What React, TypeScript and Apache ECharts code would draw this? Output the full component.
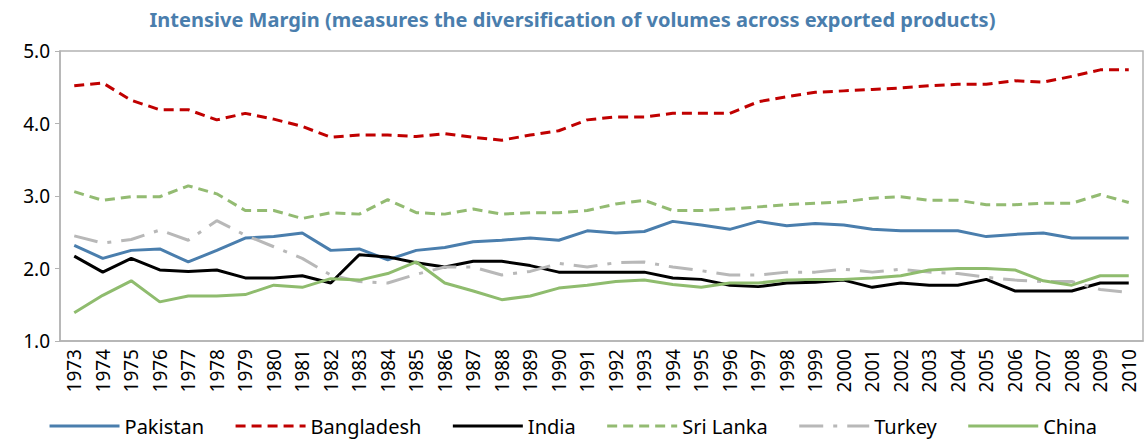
import React, { useEffect, useRef } from "react";
import * as echarts from "echarts";

const years = [
  "1973","1974","1975","1976","1977","1978","1979","1980","1981","1982",
  "1983","1984","1985","1986","1987","1988","1989","1990","1991","1992",
  "1993","1994","1995","1996","1997","1998","1999","2000","2001","2002",
  "2003","2004","2005","2006","2007","2008","2009","2010",
];

const pakistan = [
  2.32, 2.14, 2.25, 2.27, 2.09, 2.25, 2.42, 2.44, 2.49, 2.25,
  2.27, 2.12, 2.25, 2.29, 2.37, 2.39, 2.42, 2.39, 2.52, 2.49,
  2.51, 2.65, 2.60, 2.54, 2.65, 2.59, 2.62, 2.60, 2.54, 2.52,
  2.52, 2.52, 2.44, 2.47, 2.49, 2.42, 2.42, 2.42,
];
const bangladesh = [
  4.52, 4.56, 4.32, 4.19, 4.19, 4.05, 4.14, 4.06, 3.96, 3.81,
  3.84, 3.84, 3.82, 3.86, 3.81, 3.77, 3.84, 3.90, 4.05, 4.09,
  4.09, 4.14, 4.14, 4.14, 4.30, 4.37, 4.43, 4.45, 4.47, 4.49,
  4.52, 4.54, 4.54, 4.59, 4.57, 4.65, 4.74, 4.74,
];
const india = [
  2.17, 1.95, 2.14, 1.98, 1.96, 1.98, 1.87, 1.87, 1.90, 1.80,
  2.19, 2.16, 2.08, 2.02, 2.10, 2.10, 2.04, 1.95, 1.95, 1.95,
  1.95, 1.87, 1.85, 1.77, 1.75, 1.80, 1.81, 1.84, 1.74, 1.80,
  1.77, 1.77, 1.85, 1.69, 1.69, 1.69, 1.80, 1.80,
];
const sriLanka = [
  3.06, 2.94, 2.99, 2.99, 3.14, 3.03, 2.80, 2.80, 2.69, 2.77,
  2.75, 2.95, 2.77, 2.75, 2.82, 2.75, 2.77, 2.77, 2.80, 2.89,
  2.94, 2.80, 2.80, 2.82, 2.85, 2.88, 2.90, 2.92, 2.97, 2.99,
  2.94, 2.94, 2.88, 2.88, 2.90, 2.90, 3.02, 2.91,
];
const turkey = [
  2.45, 2.35, 2.40, 2.53, 2.39, 2.66, 2.46, 2.30, 2.14, 1.91,
  1.82, 1.80, 1.92, 2.02, 2.02, 1.91, 1.96, 2.07, 2.02, 2.08,
  2.09, 2.02, 1.97, 1.91, 1.91, 1.95, 1.95, 1.99, 1.95, 1.99,
  1.95, 1.93, 1.88, 1.84, 1.82, 1.82, 1.71, 1.67,
];
const china = [
  1.39, 1.63, 1.83, 1.54, 1.62, 1.62, 1.64, 1.77, 1.74, 1.86,
  1.84, 1.93, 2.09, 1.80, 1.69, 1.57, 1.62, 1.73, 1.77, 1.82,
  1.84, 1.78, 1.74, 1.80, 1.80, 1.84, 1.85, 1.85, 1.87, 1.90,
  1.98, 2.00, 2.00, 1.98, 1.83, 1.77, 1.90, 1.90,
];

const seriesDefs = [
  { name: "Pakistan", data: pakistan, color: "#4a7ead", type: "solid" as any },
  { name: "Bangladesh", data: bangladesh, color: "#c00000", type: [10, 6] as any },
  { name: "India", data: india, color: "#000000", type: "solid" as any },
  { name: "Sri Lanka", data: sriLanka, color: "#93bb72", type: [10, 6] as any },
  { name: "Turkey", data: turkey, color: "#b8b8b8", type: [24, 10, 4, 10] as any },
  { name: "China", data: china, color: "#8fbc6e", type: "solid" as any },
];

const FONT = "Noto Sans";

export default function App() {
  const ref = useRef<HTMLDivElement>(null);
  useEffect(() => {
    if (!ref.current) return;
    const chart = echarts.init(ref.current, null, { renderer: "svg" });
    chart.setOption({
      animation: false,
      backgroundColor: "#ffffff",
      title: {
        text: "Intensive Margin (measures the diversification of volumes across exported products)",
        left: "center",
        top: 4,
        textStyle: { color: "#4a7ead", fontSize: 20, fontWeight: "bold", fontFamily: FONT },
      },
      legend: {
        bottom: 0,
        left: "center",
        itemWidth: 70,
        itemHeight: 14,
        itemGap: 30,
        itemStyle: { opacity: 0 },
        lineStyle: { width: 3 },
        textStyle: { color: "#000", fontSize: 20, fontFamily: FONT },
        data: seriesDefs.map((s) => s.name),
      },
      grid: {
        left: 60,
        right: 2,
        top: 51,
        bottom: 100,
        show: true,
        borderColor: "#b3b3b3",
        borderWidth: 1.5,
      },
      xAxis: {
        type: "category",
        data: years,
        boundaryGap: true,
        axisLine: { lineStyle: { color: "#b3b3b3", width: 1.5 } },
        axisTick: { inside: true, length: 5, lineStyle: { color: "#b3b3b3" } },
        axisLabel: {
          rotate: 90,
          interval: 0,
          margin: 8,
          color: "#000",
          fontSize: 19,
          fontFamily: FONT,
        },
      },
      yAxis: {
        type: "value",
        min: 1,
        max: 5,
        interval: 1,
        splitLine: { show: false },
        axisLine: { show: true, lineStyle: { color: "#b3b3b3", width: 1.5 } },
        axisTick: { show: true, length: 5, lineStyle: { color: "#b3b3b3" } },
        axisLabel: {
          color: "#000",
          fontSize: 19,
          fontFamily: FONT,
          margin: 10,
          formatter: (v: number) => v.toFixed(1),
        },
      },
      series: seriesDefs.map((s) => ({
        name: s.name,
        type: "line",
        data: s.data,
        symbol: "none",
        color: s.color,
        lineStyle: { color: s.color, width: 3, type: s.type },
        itemStyle: { color: s.color },
      })),
    });
    return () => chart.dispose();
  }, []);
  return (
    <div
      ref={ref}
      style={{ position: "absolute", left: 0, top: 0, width: 1145, height: 441 }}
    />
  );
}
